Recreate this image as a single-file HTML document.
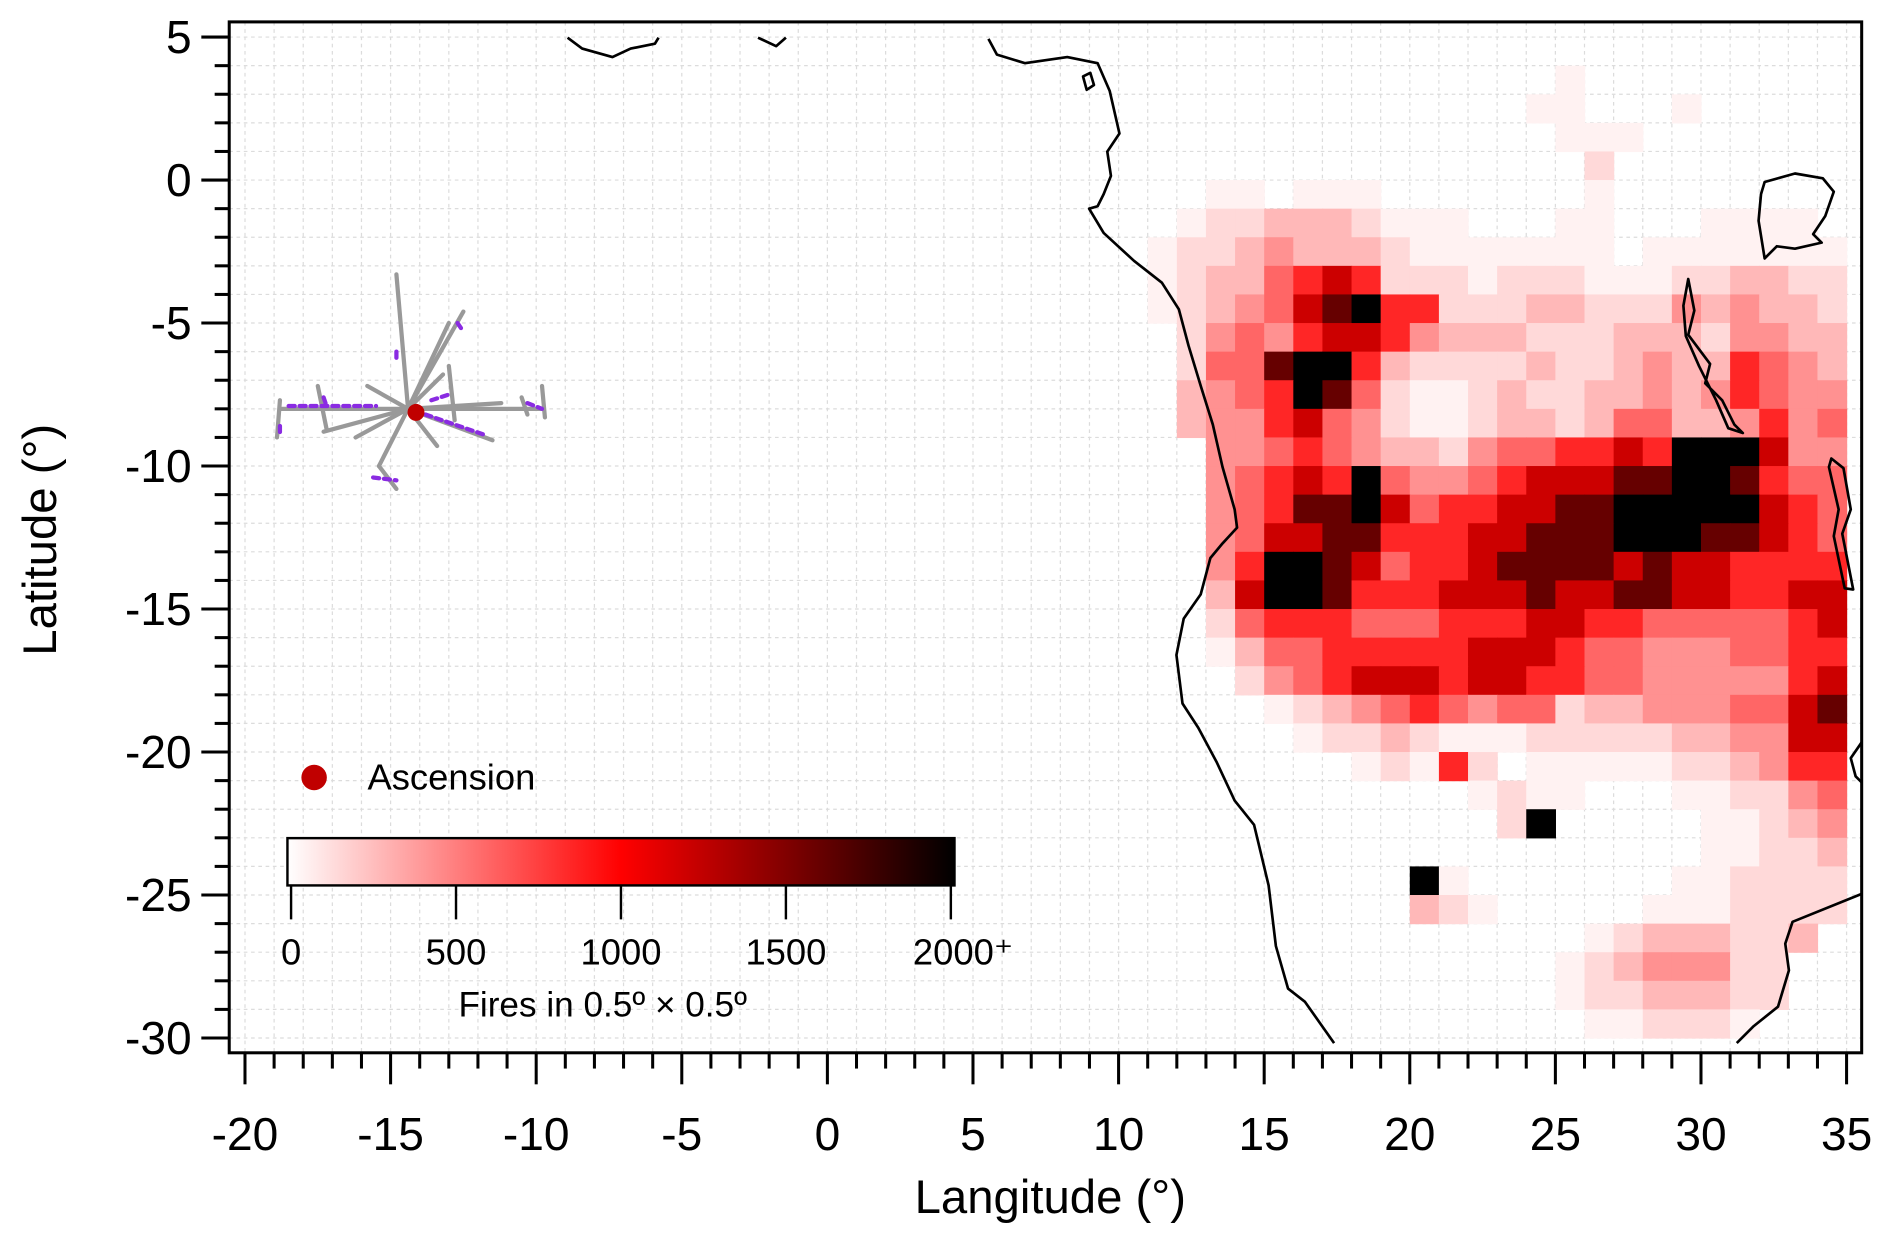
<!DOCTYPE html>
<html><head><meta charset="utf-8"><style>
html,body{margin:0;padding:0;background:#fff;}
svg{display:block;font-family:"Liberation Sans",Arial,sans-serif;}
</style></head><body>
<svg id="chart" width="1892" height="1236" viewBox="0 0 1560 1019" xmlns="http://www.w3.org/2000/svg">
<g id="grid"></g>
<g id="heat"></g>
<g id="coast" fill="none" stroke="#000" stroke-width="2.2" stroke-linejoin="round"></g>
<g id="tracks" fill="none" stroke-linecap="round"></g>
<rect x="189" y="18" width="1346" height="850" fill="none" stroke="#000" stroke-width="2.5"/>
<g id="axes"></g>
<text x="866" y="1000" font-size="39" text-anchor="middle">Langitude (°)</text>
<text transform="translate(46,445) rotate(-90)" font-size="39" text-anchor="middle">Latitude (°)</text>
<g>
<circle cx="259" cy="641" r="10.5" fill="#c00000"/>
<text x="303" y="651" font-size="30">Ascension</text>
</g>
<defs><linearGradient id="cbg" x1="0" x2="1" y1="0" y2="0">
<stop offset="0" stop-color="#fff"/><stop offset="0.5" stop-color="#f00"/><stop offset="1" stop-color="#000"/></linearGradient></defs>
<g id="cbar">
<rect x="237" y="691" width="550" height="39" fill="url(#cbg)" stroke="#000" stroke-width="2"/>
<text x="378" y="838" font-size="29">Fires in 0.5º × 0.5º</text>
</g>
<circle cx="343" cy="340" r="7" fill="#c00000"/>
</svg>
<script>
const NS="http://www.w3.org/2000/svg";
const xTicks=[-20,-15,-10,-5,0,5,10,15,20,25,30,35];
const yTicks=[5,0,-5,-10,-15,-20,-25,-30];
const cbTicks=[0,500,1000,1500,2000];
const cbLabels=["0","500","1000","1500","2000⁺"];
const heatLonStart=11;
const heatLatTop=4;
const levelCounts=[0,50,150,280,430,600,850,1200,1600,2000];
const heatRows=[
"000000000000001000000000",
"000000000000011000100000",
"000000000000001110000000",
"000000000000000200000000",
"001101110000000100000000",
"012233321110001100011110",
"122343332111111101111111",
"123356762221222111223322",
"123457896622233222434332",
"024546776433322233324433",
"025589963222232234336543",
"034569852112322334346544",
"034467542112332355334645",
"004456543324556676999744",
"004567695445677788998655",
"004568897566778899999765",
"004577886667788899988765",
"004699875667888878776666",
"003799866677787788776677",
"002566655566677665555567",
"001355666667776554445566",
"000245677767766554444467",
"000012345654552334445578",
"000001223211122222334477",
"000000012162011111223466",
"000000000001211000112245",
"000000000000290000011234",
"000000000000000000011223",
"000000000910000000112222",
"000000000321000001112222",
"000000000000000123332230",
"000000000000001234442200",
"000000000000001223332200",
"000000000000000112221000"
];
function X(lon){return 202+(lon+20)*24.01;}
function Y(lat){return 148.4-lat*23.58;}
function CB(v){return 240+v*0.272;}
function col(v){let t=Math.min(v,2000)/1000;
 if(t<=1){const c=Math.round(255*(1-t));return `rgb(255,${c},${c})`;}
 return `rgb(${Math.round(255*(2-t))},0,0)`;}
function mk(tag,attrs,parent){const e=document.createElementNS(NS,tag);for(const k in attrs)e.setAttribute(k,attrs[k]);parent.appendChild(e);return e;}
const grid=document.getElementById('grid');
for(let lon=-20;lon<=35;lon++){const g=mk('line',{x1:X(lon),x2:X(lon),y1:18,y2:868,stroke:'#dcdcdc','stroke-width':1,'stroke-dasharray':'3,3'},grid);

}
for(let lat=5;lat>=-30;lat--){const g=mk('line',{x1:189,x2:1535,y1:Y(lat),y2:Y(lat),stroke:'#dcdcdc','stroke-width':1,'stroke-dasharray':'3,3'},grid);

}
const heat=document.getElementById('heat');
heatRows.forEach((row,i)=>{for(let j=0;j<row.length;j++){const v=levelCounts[+row[j]];if(!v)continue;
 const lon=heatLonStart+j,lat=heatLatTop-i;
 const r=mk('rect',{x:X(lon),y:Y(lat),width:X(lon+1)-X(lon)+0.5,height:Y(lat-1)-Y(lat)+0.5,fill:col(v)},heat);
 
 }});
const axes=document.getElementById('axes');
for(let lon=-20;lon<=35;lon++){const major=xTicks.includes(lon);
 const t=mk('line',{x1:X(lon),x2:X(lon),y1:868,y2:major?894:881,stroke:'#000','stroke-width':2.5},axes);
 
 }
xTicks.forEach(v=>{const t=mk('text',{x:X(v),y:948,'font-size':38,'text-anchor':'middle'},axes);t.textContent=v;
 
 });
for(let lat=5;lat>=-30;lat--){const major=yTicks.includes(lat);
 const t=mk('line',{x1:major?166:177,x2:189,y1:Y(lat),y2:Y(lat),stroke:'#000','stroke-width':2.5},axes);
 
 }
yTicks.forEach(v=>{const t=mk('text',{x:158,y:Y(v)+13,'font-size':38,'text-anchor':'end'},axes);t.textContent=v;
 
 });
const cbar=document.getElementById('cbar');
cbTicks.forEach((v,i)=>{const l=mk('line',{x1:CB(v),x2:CB(v),y1:730,y2:758,stroke:'#000','stroke-width':2},cbar);
 
 
 const t=mk('text',{x:CB(v)+(i==4?10:0),y:795,'font-size':30,'text-anchor':'middle'},cbar);t.textContent=cbLabels[i];
 
 });
const coastPaths=[
"M815,32 L822,45 L845,52 L880,47 L905,52 L915,75 L923,110 L913,125 L916,145 L910,160 L905,170 L898,172 L910,192 L935,215 L958,233 L972,255 L980,285 L990,318 L1000,350 L1008,385 L1018,420 L1020,435 L1008,448 L998,460 L990,490 L976,510 L970,540 L975,580 L988,600 L1003,628 L1018,660 L1034,680 L1040,705 L1046,730 L1052,780 L1062,815 L1076,826 L1088,843 L1100,860",
"M468,31 L480,40 L505,47 L520,40 L540,36 L543,31",
"M625,31 L640,38 L648,31",
"M893,63 L899,60 L902,70 L896,74 Z",
"M1455,150 L1480,143 L1503,147 L1512,158 L1505,178 L1495,193 L1502,200 L1480,205 L1465,203 L1455,213 L1450,182 L1452,160 Z",
"M1392,230 L1397,256 L1392,276 L1410,300 L1406,316 L1420,330 L1430,350 L1437,357 L1425,353 L1415,330 L1401,302 L1390,277 L1388,252 Z",
"M1510,378 L1520,386 L1526,420 L1519,440 L1528,486 L1521,485 L1512,442 L1516,420 L1508,385 Z",
"M1535,737 L1478,760 L1472,778 L1475,800 L1466,830 L1446,846 L1432,860",
"M1535,612 L1526,625 L1530,640 L1535,645"];
const coast=document.getElementById('coast');
coastPaths.forEach(d=>{const p=mk('path',{d:d},coast);
 
 });
const grayTracks=[
[[-14.4,-8],[-14.8,-3.3]],[[-14.4,-8],[-12.5,-4.6]],[[-14.4,-8],[-13,-5]],
[[-18.8,-8],[-9.8,-8]],[[-18.8,-7.7],[-18.9,-9]],[[-9.8,-7.2],[-9.7,-8.3]],
[[-14.4,-8],[-11.5,-9.1]],[[-14.4,-8],[-17.3,-8.8]],[[-14.4,-8],[-15.4,-10]],
[[-15.4,-10],[-14.8,-10.8]],[[-17.5,-7.2],[-17.2,-8.7]],[[-14.4,-8],[-11.2,-7.8]],
[[-14.4,-8],[-15.8,-7.2]],[[-14.4,-8],[-13.2,-6.8]],[[-13,-6.5],[-12.8,-8.4]],
[[-10.5,-7.6],[-10.3,-8.2]],[[-14.4,-8],[-16.2,-9]],[[-14.4,-8],[-13.4,-9.3]]];
const purpleTracks=[
[[-18.5,-7.9],[-15.5,-7.9]],[[-13.8,-8.2],[-11.8,-8.9]],[[-15.6,-10.4],[-14.8,-10.5]],
[[-12.7,-5],[-12.5,-5.3]],[[-10.3,-7.8],[-9.8,-8]],[[-14.8,-6],[-14.8,-6.3]],
[[-13.6,-7.7],[-13,-7.5]],[[-18.8,-8.6],[-18.8,-8.9]],[[-17.3,-7.6],[-17.2,-7.9]]];
const tracks=document.getElementById('tracks');
grayTracks.forEach(s=>{const l=mk('line',{x1:X(s[0][0]),y1:Y(s[0][1]),x2:X(s[1][0]),y2:Y(s[1][1]),stroke:'#999','stroke-width':3.5},tracks);
 
 });
purpleTracks.forEach(s=>{const l=mk('line',{x1:X(s[0][0]),y1:Y(s[0][1]),x2:X(s[1][0]),y2:Y(s[1][1]),stroke:'#8a2be2','stroke-width':3.5,'stroke-dasharray':'5,4'},tracks);
 
 });
</script>
</body></html>
